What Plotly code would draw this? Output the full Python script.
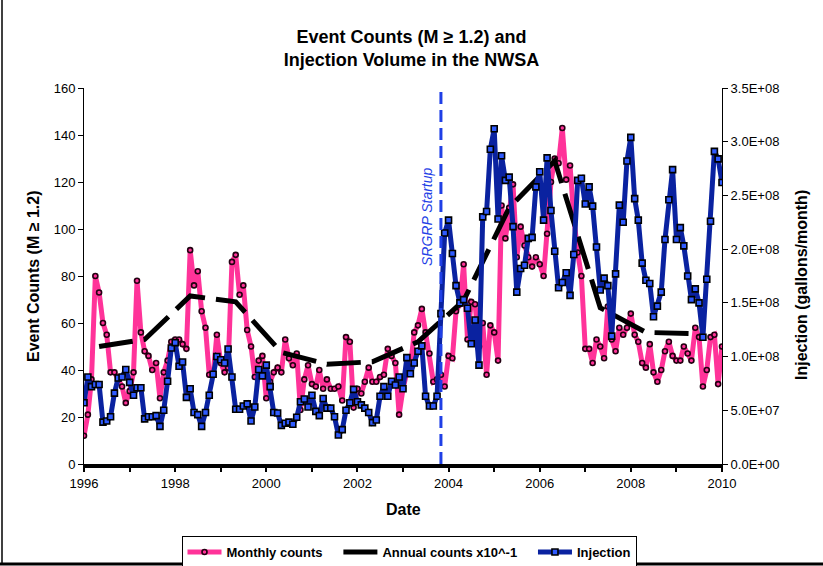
import plotly.graph_objects as go
import pandas as pd

# ---------------- data ----------------
months = pd.date_range("1996-01-01", "2010-01-01", freq="MS").strftime("%Y-%m-%d").tolist()

monthly_counts = [
    12, 21, 36, 80, 73, 60, 55, 39, 39, 36, 33, 26,      # 1996
    31, 39, 78, 56, 48, 46, 40, 43, 28, 39, 44, 52,      # 1997
    53, 53, 51, 49, 91, 76, 82, 65, 58, 38, 38, 55,      # 1998
    43, 39, 41, 86, 89, 72, 76, 57, 50, 37, 44, 46,      # 1999
    28, 35, 39, 41, 39, 53, 45, 42, 47, 23, 36, 42,      # 2000
    34, 33, 40, 32, 36, 32, 32, 33, 27, 54, 52, 24,      # 2001
    32, 30, 35, 41, 35, 35, 37, 38, 49, 46, 43, 21,      # 2002
    32, 39, 41, 56, 59, 66, 56, 47, 35, 36, 38, 33,      # 2003
    46, 45, 65, 68, 85, 53, 69, 68, 50, 60, 38, 59,      # 2004
    56, 44, 110, 96, 109, 119, 88, 101, 93, 88, 84, 88,  # 2005
    85, 80, 98, 120, 130, 128, 143, 121, 127, 105, 90, 80,  # 2006
    49, 49, 43, 53, 50, 45, 67, 53, 48, 58, 55, 58,      # 2007
    64, 55, 52, 43, 41, 51, 39, 35, 40, 48, 52, 46,      # 2008
    44, 44, 50, 47, 44, 58, 54, 33, 40, 54, 55, 34,      # 2009
    50,                                                  # 2010-01
]

injection = [
    5.7e7, 8.1e7, 7.2e7, 7.4e7, 7.4e7, 3.9e7, 4.0e7, 4.4e7, 6.6e7, 8.0e7, 8.1e7, 8.8e7,
    7.6e7, 6.4e7, 7.1e7, 7.1e7, 4.2e7, 4.4e7, 4.4e7, 4.5e7, 3.5e7, 5.0e7, 7.7e7, 1.08e8,
    1.13e8, 9.1e7, 9.5e7, 6.2e7, 7.0e7, 4.8e7, 4.6e7, 3.5e7, 4.8e7, 6.4e7, 8.35e7, 1.0e8,
    9.7e7, 9.4e7, 1.07e8, 8.1e7, 5.1e7, 5.1e7, 5.4e7, 5.6e7, 4.0e7, 5.3e7, 8.8e7, 8.2e7,
    9.2e7, 7.2e7, 4.8e7, 4.75e7, 3.6e7, 3.8e7, 3.9e7, 3.7e7, 4.35e7, 5.8e7, 6.05e7, 5.3e7,
    6.4e7, 4.9e7, 4.5e7, 6.1e7, 5.2e7, 5.2e7, 4.4e7, 2.7e7, 3.2e7, 5.0e7, 5.7e7, 6.95e7,
    5.8e7, 5.5e7, 5.2e7, 4.8e7, 3.85e7, 4.1e7, 6.3e7, 7.2e7, 6.3e7, 7.7e7, 7.35e7, 8.1e7,
    7.0e7, 9.9e7, 8.4e7, 9.4e7, 1.05e8, 1.10e8, 6.3e7, 5.4e7, 5.4e7, 6.3e7, 1.40e8, 2.15e8,
    2.27e8, 1.96e8, 1.66e8, 1.50e8, 1.53e8, 1.45e8, 1.12e8, 1.34e8, 9.2e7, 2.30e8, 2.35e8, 2.93e8,
    3.12e8, 2.28e8, 2.87e8, 2.64e8, 2.67e8, 2.21e8, 1.60e8, 1.82e8, 1.85e8, 2.10e8, 2.11e8, 2.58e8,
    2.72e8, 2.27e8, 2.85e8, 2.36e8, 1.98e8, 1.64e8, 1.69e8, 1.78e8, 1.57e8, 1.95e8, 2.64e8, 2.66e8,
    2.42e8, 2.58e8, 2.40e8, 2.02e8, 1.62e8, 1.73e8, 1.66e8, 1.19e8, 1.77e8, 2.41e8, 2.25e8, 2.82e8,
    3.04e8, 2.47e8, 2.27e8, 1.87e8, 1.71e8, 1.68e8, 1.37e8, 1.47e8, 1.60e8, 2.09e8, 2.46e8, 2.74e8,
    2.09e8, 2.20e8, 2.03e8, 1.75e8, 1.53e8, 1.63e8, 1.50e8, 1.18e8, 1.72e8, 2.26e8, 2.91e8, 2.84e8,
    2.62e8,
]

annual_dates = [f"{y}-05-01" for y in range(1996, 2010)]
annual_counts_x01 = [50, 53, 71.5, 69, 47.5, 42.5, 43.5, 52, 69.5, 109, 129, 66.5, 56, 55.5]

year_ticks = [f"{y}-01-01" for y in range(1996, 2011)]
year_labels = [str(y) if y % 2 == 0 else "" for y in range(1996, 2011)]

count_ticks = [0, 20, 40, 60, 80, 100, 120, 140, 160]
inj_ticks = [0, 5e7, 1e8, 1.5e8, 2e8, 2.5e8, 3e8, 3.5e8]
inj_labels = ["0.0E+00", "5.0E+07", "1.0E+08", "1.5E+08", "2.0E+08", "2.5E+08", "3.0E+08", "3.5E+08"]

startup_date = "2003-11-01"

# ---------------- figure ----------------
FONT = "Arial, 'Liberation Sans', sans-serif"
PINK = "#FF3399"
NAVY = "#0A22A0"
SRGRP = "#1F3FE6"
PAD = "\u00a0\u00a0\u00a0"

fig = go.Figure()

fig.add_trace(go.Scatter(
    x=months, y=monthly_counts, name="Monthly counts" + PAD, mode="lines+markers",
    line=dict(color=PINK, width=5),
    marker=dict(symbol="circle", size=5, color=PINK, line=dict(color="#220011", width=1.6)),
    legendrank=1,
))
fig.add_trace(go.Scatter(
    x=annual_dates, y=annual_counts_x01, name="Annual counts x10^-1" + PAD, mode="lines",
    line=dict(color="black", width=5, dash="34px,11px"),
    legendrank=2,
))
fig.add_trace(go.Scatter(
    x=months, y=injection, name="Injection", mode="lines+markers", yaxis="y2",
    line=dict(color=NAVY, width=5),
    marker=dict(symbol="square", size=6, color="#2F5BFF", line=dict(color="#000000", width=1.6)),
    legendrank=3,
))

L, R, T, B = 84, 101, 88, 102
W, H = 823, 566
pw, ph = W - L - R, H - T - B

def px_x(x):
    return (x - L) / pw

def px_y(y):
    return (H - B - y) / ph

fig.update_layout(
    width=W, height=H,
    margin=dict(l=L, r=R, t=T, b=B, pad=0, autoexpand=False),
    paper_bgcolor="white", plot_bgcolor="white",
    font=dict(family=FONT, size=13, color="black"),
    title=dict(
        text="Event Counts (M \u2265 1.2) and<br>Injection Volume in the NWSA",
        x=0.5, xanchor="center", xref="container",
        y=1 - 43 / H, yanchor="middle", yref="container",
        font=dict(family=FONT, size=18, color="black", weight="bold"),
    ),
    xaxis=dict(
        type="date", range=["1996-01-01", "2010-01-01"], automargin=False,
        tickmode="array", tickvals=year_ticks, ticktext=year_labels,
        ticks="outside", ticklen=4, tickwidth=2, tickcolor="black",
        showline=True, linecolor="black", linewidth=4,
        showgrid=False, zeroline=False,
        tickfont=dict(family=FONT, size=13),
    ),
    yaxis=dict(
        range=[0, 160], tickmode="array", tickvals=count_ticks, automargin=False,
        ticks="outside", ticklen=5, tickcolor="black",
        showline=True, linecolor="black", linewidth=1,
        showgrid=False, zeroline=False,
        tickfont=dict(family=FONT, size=13),
    ),
    yaxis2=dict(
        range=[0, 3.5e8], overlaying="y", side="right", automargin=False,
        tickmode="array", tickvals=inj_ticks, ticktext=inj_labels,
        ticks="outside", ticklen=5, tickcolor="black",
        showline=True, linecolor="black", linewidth=1,
        showgrid=False, zeroline=False,
        tickfont=dict(family=FONT, size=13),
    ),
    legend=dict(
        orientation="h", xref="container", yref="container",
        x=409 / W, xanchor="center", y=1 - 536 / H, yanchor="top",
        bordercolor="black", borderwidth=1, bgcolor="white",
        font=dict(family=FONT, size=13, weight="bold"),
        itemwidth=34, traceorder="normal",
    ),
    showlegend=True,
)

fig.add_shape(type="line", xref="x", yref="paper", x0=startup_date, x1=startup_date,
              y0=0, y1=1, line=dict(color=SRGRP, width=3, dash="12px,6px"))

fig.add_annotation(x=px_x(427), y=px_y(217), xref="paper", yref="paper",
                   xanchor="center", yanchor="middle",
                   text="<i>SRGRP Startup</i>", textangle=-90, showarrow=False,
                   font=dict(family=FONT, size=14, color=SRGRP))

fig.add_annotation(x=px_x(33), y=px_y(277), xref="paper", yref="paper",
                   xanchor="center", yanchor="middle",
                   text="<b>Event Counts (M \u2265 1.2)</b>", textangle=-90, showarrow=False,
                   font=dict(family=FONT, size=16, color="black"))
fig.add_annotation(x=px_x(801), y=px_y(285), xref="paper", yref="paper",
                   xanchor="center", yanchor="middle",
                   text="<b>Injection (gallons/month)</b>", textangle=-90, showarrow=False,
                   font=dict(family=FONT, size=16, color="black"))
fig.add_annotation(x=px_x(404), y=px_y(509), xref="paper", yref="paper",
                   xanchor="center", yanchor="middle",
                   text="<b>Date</b>", showarrow=False,
                   font=dict(family=FONT, size=16, color="black"))

# chart-area frame (left and bottom edges visible)
fig.add_shape(type="line", xref="paper", yref="paper",
              x0=px_x(2), x1=px_x(2), y0=px_y(0), y1=px_y(564),
              line=dict(color="black", width=1.5))
fig.add_shape(type="line", xref="paper", yref="paper",
              x0=px_x(0), x1=px_x(823), y0=px_y(564), y1=px_y(564),
              line=dict(color="black", width=3))

fig.write_html(
    "out.html",
    config={"displayModeBar": False},
    post_script="document.body.style.margin='0';document.body.style.overflow='hidden';",
)
